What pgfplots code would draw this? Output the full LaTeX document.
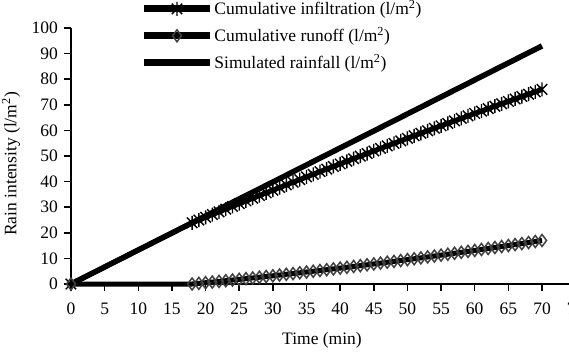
\documentclass[border=0pt]{standalone}
\usepackage{pgfplots}
\pgfplotsset{compat=1.18}
\usepackage{fontspec}
\setmainfont{Liberation Serif}

% Excel-style star: vertical bar plus a diagonal cross
\pgfdeclareplotmark{xstar}{%
  \pgfpathmoveto{\pgfqpoint{0pt}{\pgfplotmarksize}}%
  \pgfpathlineto{\pgfqpoint{0pt}{-\pgfplotmarksize}}%
  \pgfpathmoveto{\pgfqpoint{-.75\pgfplotmarksize}{-.75\pgfplotmarksize}}%
  \pgfpathlineto{\pgfqpoint{.75\pgfplotmarksize}{.75\pgfplotmarksize}}%
  \pgfpathmoveto{\pgfqpoint{-.75\pgfplotmarksize}{.75\pgfplotmarksize}}%
  \pgfpathlineto{\pgfqpoint{.75\pgfplotmarksize}{-.75\pgfplotmarksize}}%
  \pgfusepathqstroke}

\pgfplotstableread{
t  inf
0  0
18 23.91
19 24.99
20 26.06
21 27.14
22 28.21
23 29.27
24 30.34
25 31.39
26 32.45
27 33.50
28 34.55
29 35.60
30 36.65
31 37.69
32 38.72
33 39.76
34 40.79
35 41.82
36 42.85
37 43.88
38 44.90
39 45.92
40 46.92
41 47.94
42 48.95
43 49.95
44 50.96
45 51.96
46 52.96
47 53.94
48 54.94
49 55.93
50 56.91
51 57.90
52 58.88
53 59.86
54 60.82
55 61.79
56 62.76
57 63.73
58 64.69
59 65.65
60 66.61
61 67.55
62 68.50
63 69.45
64 70.40
65 71.34
66 72.28
67 73.22
68 74.14
69 75.07
70 76.00
}\infiltration

\pgfplotstableread{
t  run
0  0
18 0
19 0.25
20 0.51
21 0.76
22 1.02
23 1.29
24 1.55
25 1.82
26 2.09
27 2.37
28 2.65
29 2.93
30 3.21
31 3.50
32 3.79
33 4.08
34 4.38
35 4.68
36 4.98
37 5.28
38 5.59
39 5.90
40 6.22
41 6.53
42 6.85
43 7.18
44 7.50
45 7.83
46 8.16
47 8.50
48 8.83
49 9.17
50 9.52
51 9.86
52 10.21
53 10.56
54 10.92
55 11.28
56 11.64
57 12.00
58 12.37
59 12.74
60 13.11
61 13.49
62 13.87
63 14.25
64 14.63
65 15.02
66 15.41
67 15.80
68 16.20
69 16.60
70 17.00
}\runoff

\pgfplotstableread{
t  rain
0  0
70 93
}\rainfall

\begin{document}
\fontsize{17.5}{21}\selectfont
\begin{tikzpicture}
\begin{axis}[
  x=6.729pt, y=2.56pt,
  xmin=0, xmax=75, ymin=0, ymax=100,
  axis x line=bottom, axis y line=left,
  axis line style={line width=1.5pt, -},
  xtick={0,5,...,75}, ytick={0,10,...,100},
  tick align=outside, major tick length=7pt,
  tick style={line width=1.5pt, black},
  /pgf/number format/assume math mode=true,
  ticklabel style={font=\fontsize{17.5}{21}\selectfont},
  xticklabel style={yshift=-6pt},
  xlabel={Time (min)},
  ylabel={Rain intensity (l/m\textsuperscript{2})},
  xlabel style={at={(axis cs:37.3,-21.9)}, anchor=center},
  ylabel style={at={(axis cs:-8.9,46.9)}, anchor=center},
  clip=false,
  legend style={draw=none, fill=none, at={(axis cs:10.3,111.3)}, anchor=north west,
    inner sep=0pt, row sep=8pt,
    font=\fontsize{17.5}{21}\selectfont,
    nodes={inner xsep=1pt, inner ysep=1pt}},
  legend cell align=left,
  legend image code/.code={%
    \draw[line width=7pt, mark repeat=2, mark phase=2]
      plot coordinates {(0pt,0pt) (33pt,0pt) (66pt,0pt)};},
]
\addplot[black, line width=5pt, mark=xstar, mark size=7pt,
  mark options={line width=1.4pt, black, solid}]
  table[x=t, y=inf] {\infiltration};
\addlegendentry{Cumulative infiltration (l/m\textsuperscript{2})}

\addplot[black, line width=5pt, mark=diamond, mark size=6pt,
  mark options={line width=1.5pt, draw=black!75, fill=none, solid}]
  table[x=t, y=run] {\runoff};
\addlegendentry{Cumulative runoff (l/m\textsuperscript{2})}

\addplot[black, line width=5.5pt, no marks]
  table[x=t, y=rain] {\rainfall};
\addlegendentry{Simulated rainfall (l/m\textsuperscript{2})}

\coordinate (bbsw) at (axis cs:-10.55,-29.69);
\coordinate (bbne) at (axis cs:74.01,110.94);
\end{axis}
\pgfresetboundingbox
\path[use as bounding box] (bbsw) rectangle (bbne);
\end{tikzpicture}
\end{document}
